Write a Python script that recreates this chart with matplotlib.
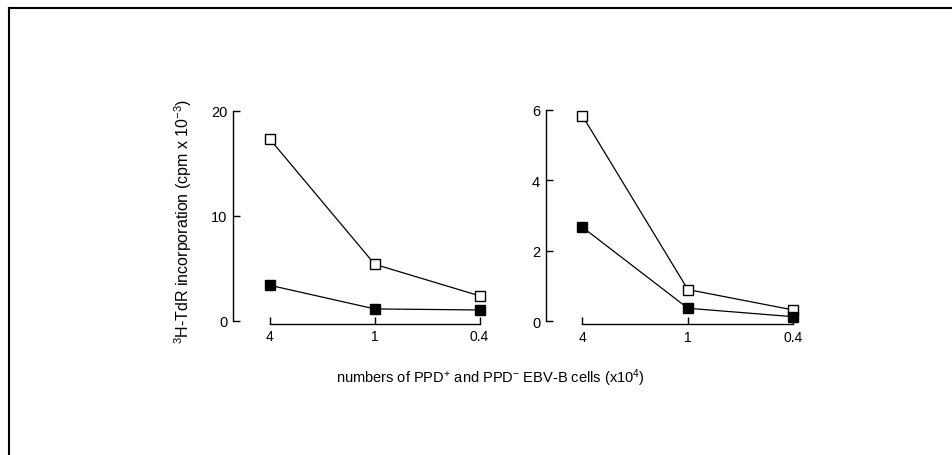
import matplotlib
matplotlib.use('Agg')
import matplotlib.pyplot as plt
from matplotlib.lines import Line2D

matplotlib.rcParams['font.family'] = 'Liberation Sans'
matplotlib.rcParams['mathtext.fontset'] = 'custom'
matplotlib.rcParams['mathtext.rm'] = 'Liberation Sans'
matplotlib.rcParams['mathtext.it'] = 'Liberation Sans:italic'
matplotlib.rcParams['mathtext.bf'] = 'Liberation Sans:bold'

# cell numbers (x10^4)
cells = ['4', '1', '0.4']

# left panel
left_open = [17.3, 5.4, 2.4]
left_filled = [3.4, 1.15, 1.05]
left_ticks = [0, 10, 20]

# right panel
right_open = [5.83, 0.90, 0.32]
right_filled = [2.67, 0.37, 0.13]
right_ticks = [0, 2, 4, 6]

W, H = 953, 456
fig = plt.figure(figsize=(W / 100, H / 100), dpi=100)

def px_axes(x0, y0, x1, y1):
    # pixel box -> figure fraction
    return fig.add_axes([x0 / W, 1 - y1 / H, (x1 - x0) / W, (y1 - y0) / H])

ax1 = px_axes(232.7, 112, 490, 322)
ax2 = px_axes(545.7, 110.7, 804, 322.3)

panels = [
    (ax1, left_open, left_filled, left_ticks, (-0.356, 2.1), (0, 20)),
    (ax2, right_open, right_filled, right_ticks, (-0.347, 2.1), (0, 6)),
]

for ax, yo, yf, yt, xl, yl in panels:
    xs = range(len(cells))
    ax.plot(xs, yo, color='black', lw=0.9, marker='s', ms=6.5,
            mfc='white', mec='black', mew=1.0, clip_on=False, zorder=3)
    ax.plot(xs, yf, color='black', lw=0.9, marker='s', ms=6.5,
            mfc='black', mec='black', clip_on=False, zorder=3)
    ax.set_xlim(*xl)
    ax.set_ylim(*yl)
    ax.set_xticks(list(xs))
    ax.set_xticklabels(cells, fontsize=10.5)
    ax.set_yticks(yt)
    ax.set_yticklabels([str(t) for t in yt], fontsize=10.5)
    for s in ['top', 'right']:
        ax.spines[s].set_visible(False)
    ax.spines['left'].set_bounds(yl[0], yl[1])
    ax.spines['bottom'].set_bounds(0, 2)
    ax.spines['bottom'].set_position(('outward', 2))
    for s in ['left', 'bottom']:
        ax.spines[s].set_linewidth(1.0)
    ax.tick_params(axis='both', direction='in', length=5, width=1.0, pad=4)
    ax.patch.set_alpha(0)

ax1.set_ylabel(r'$^{3}$H-TdR incorporation (cpm x 10$^{-3}$)', fontsize=11.5)
ax1.yaxis.set_label_coords(-0.152, 0.48)

fig.text(490 / W, 1 - 378 / H,
         r'numbers of PPD$^{+}$ and PPD$^{-}$ EBV-B cells (x10$^{4}$)',
         ha='center', va='center', fontsize=10.5)

# scanned page border (top and left edges)
fig.add_artist(Line2D([9 / W, 9 / W], [0, 1 - 9 / H], color='black', lw=1.5,
                      transform=fig.transFigure))
fig.add_artist(Line2D([9 / W, 1], [1 - 9 / H, 1 - 9 / H], color='black', lw=1.5,
                      transform=fig.transFigure))

fig.savefig('out.png', dpi=100)
